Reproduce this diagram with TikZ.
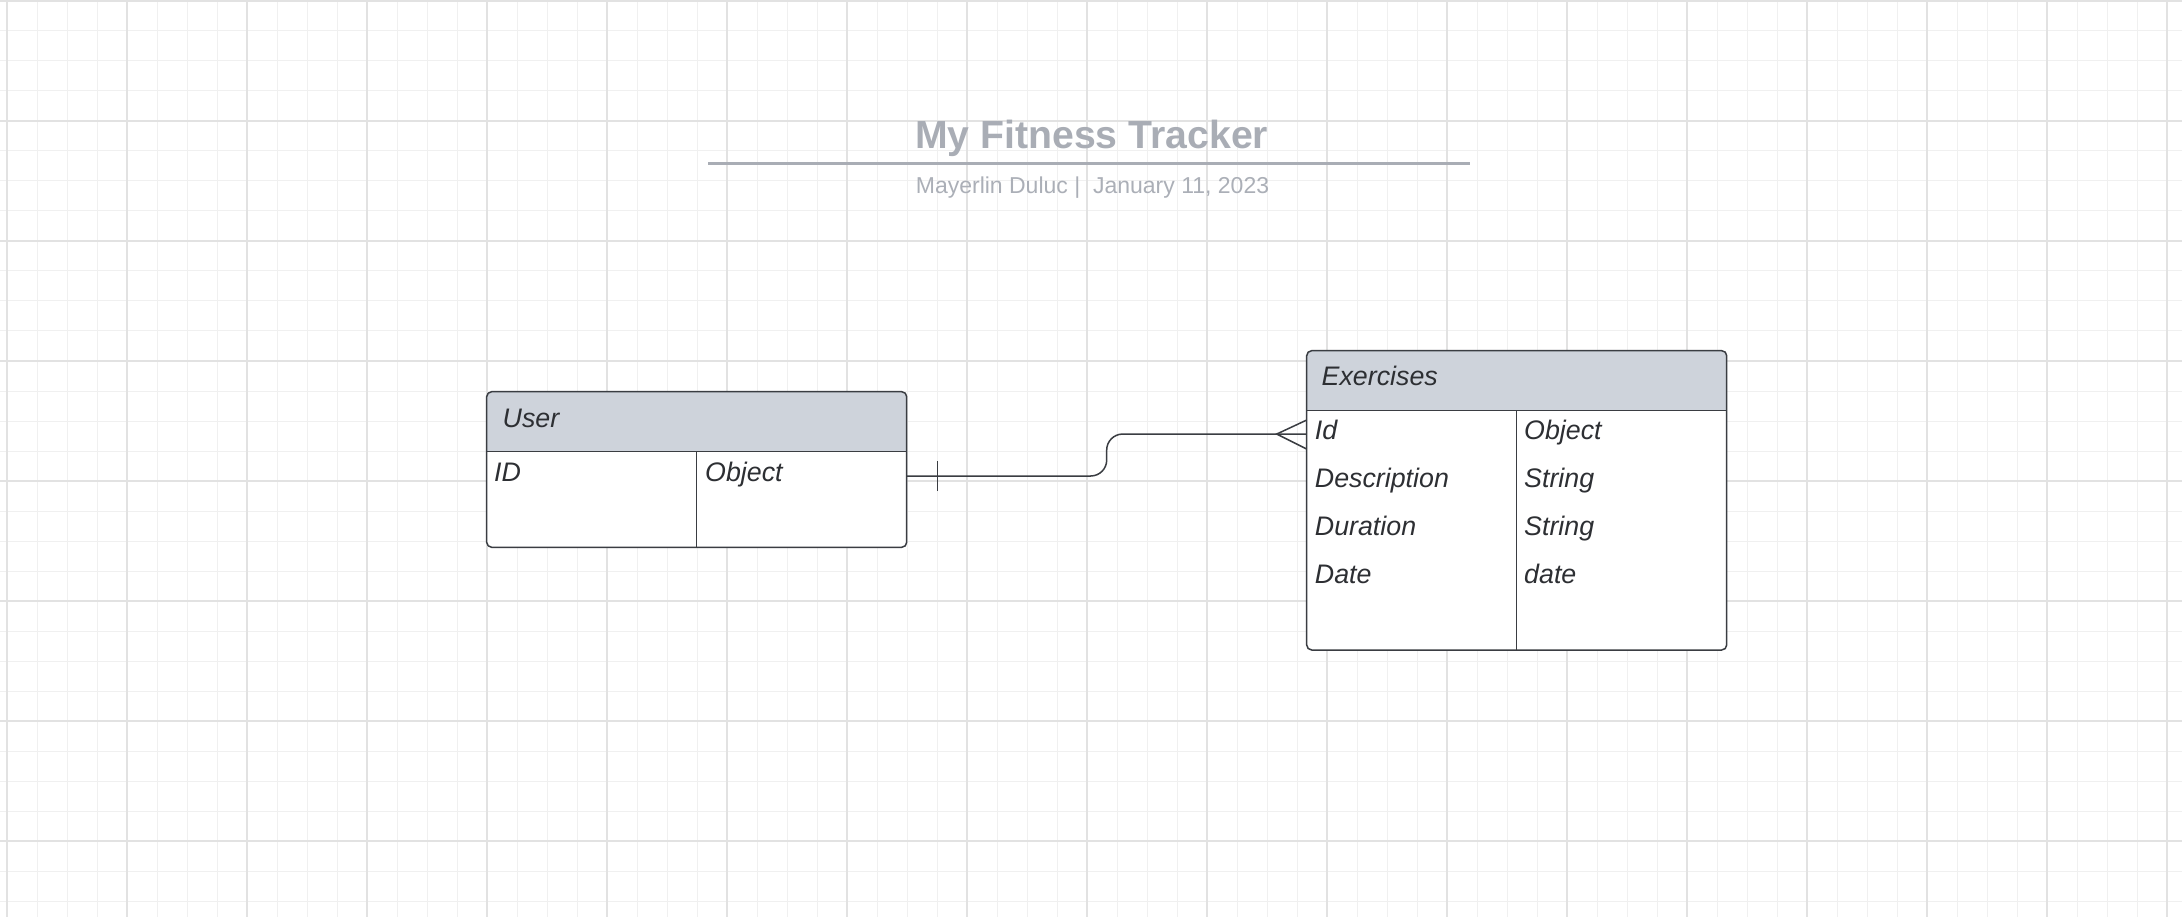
\documentclass[tikz,border=0pt]{standalone}
\usepackage{fontspec}
\setmainfont{Liberation Sans}
\usetikzlibrary{calc}
\definecolor{gridminor}{RGB}{240,240,240}
\definecolor{gridmajor}{RGB}{226,226,226}
\definecolor{titlegray}{RGB}{169,173,181}
\definecolor{subgray}{RGB}{171,175,183}
\definecolor{hdrfill}{RGB}{206,211,219}
\definecolor{edge}{RGB}{58,61,66}
\definecolor{ink}{RGB}{45,47,51}
\tikzset{
  tablebox/.style={draw=none, fill=white, rectangle, inner sep=0pt, outer sep=0pt, minimum width=420pt, anchor=north west},
  border/.style={draw=edge, line width=1.5pt, rounded corners=5pt},
  divider/.style={draw=edge, line width=1.5pt},
  cell/.style={anchor=base west, inner sep=0pt, text=ink, font=\fontsize{26.8pt}{30pt}\selectfont\itshape},
  conn/.style={draw=edge, line width=1.5pt},
}
\begin{document}
\begin{tikzpicture}[x=1pt, y=-1pt]
\fill[white] (0,0) rectangle (2182,917);
\useasboundingbox (0,0) rectangle (2182,917);
% grid
\foreach \x in {7,37,...,2182} \draw[gridminor, line width=1pt] (\x,0) -- (\x,917);
\foreach \y in {1,31,...,917} \draw[gridminor, line width=1pt] (0,\y) -- (2182,\y);
\foreach \x in {7,127,...,2182} \draw[gridmajor, line width=1.1pt] (\x,0) -- (\x,917);
\foreach \y in {1,121,...,917} \draw[gridmajor, line width=1.1pt] (0,\y) -- (2182,\y);

% title
\node[anchor=base, inner sep=0pt, text=titlegray, font=\fontsize{39.2pt}{44pt}\selectfont\bfseries] (title) at (1091.7,149) {My Fitness Tracker};
\draw[titlegray, line width=3pt] (708,163.3) -- (1470,163.3);
\node[anchor=base, inner sep=0pt, text=subgray, font=\fontsize{23pt}{26pt}\selectfont] (sub) at (1092.5,194) {Mayerlin Duluc |\ \ January 11, 2023};

% User table
\node[tablebox, minimum height=155.6pt] (user) at (486.7,391.7) {};
\begin{scope}
  \clip[rounded corners=5pt] (user.north west) rectangle (user.south east);
  \fill[hdrfill] (user.north west) rectangle ($(user.north east)+(0,60)$);
\end{scope}
\draw[divider] ($(user.north west)+(0,60)$) -- ($(user.north east)+(0,60)$);
\draw[divider] ($(user.north)+(0,60)$) -- (user.south);
\draw[border] (user.north west) rectangle (user.south east);
\node[cell] (userT) at (502.5,427.7) {User};
\node[cell] (userID) at (494,481.7) {ID};
\node[cell] (userObj) at (705,481.7) {Object};

% Exercises table
\node[tablebox, minimum height=299.3pt] (ex) at (1306.7,350.7) {};
\begin{scope}
  \clip[rounded corners=5pt] (ex.north west) rectangle (ex.south east);
  \fill[hdrfill] (ex.north west) rectangle ($(ex.north east)+(0,59.6)$);
\end{scope}
\draw[divider] ($(ex.north west)+(0,59.6)$) -- ($(ex.north east)+(0,59.6)$);
\draw[divider] ($(ex.north)+(0,59.6)$) -- (ex.south);
\draw[border] (ex.north west) rectangle (ex.south east);
\node[cell] (exT) at (1321.5,385.7) {Exercises};
\node[cell] (exA1) at (1314.7,439.3) {Id};
\node[cell] (exA2) at (1314.7,487.3) {Description};
\node[cell] (exA3) at (1314.7,535.5) {Duration};
\node[cell] (exA4) at (1314.7,583.3) {Date};
\node[cell] (exB1) at (1524,439.3) {Object};
\node[cell] (exB2) at (1524,487.3) {String};
\node[cell] (exB3) at (1524,535.5) {String};
\node[cell] (exB4) at (1524,583.3) {date};

% connector
\coordinate (ua) at ([yshift=-6.5pt]user.east);
\coordinate (eb) at ([yshift=66.3pt]ex.west);
\draw[conn, rounded corners=16pt] (ua) -| ([xshift=-200pt]eb) -- (eb);
\draw[conn] ([xshift=31pt,yshift=15pt]ua) -- ([xshift=31pt,yshift=-15pt]ua);
\draw[conn] ([yshift=14pt]eb) -- ([xshift=-30pt]eb) -- ([yshift=-15pt]eb);
\end{tikzpicture}
\end{document}
